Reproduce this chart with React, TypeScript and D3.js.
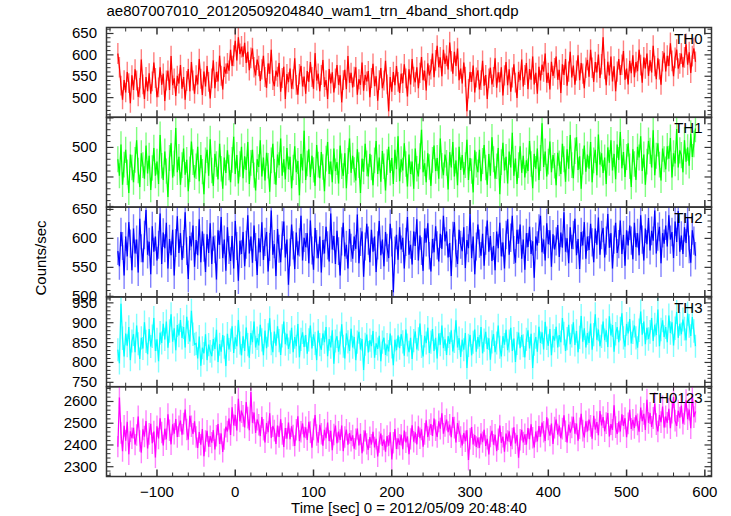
import React from "react";
import * as d3 from "d3";

const TITLE = "ae807007010_20120509204840_wam1_trn_4band_short.qdp";
const X_LABEL = "Time [sec] 0 = 2012/05/09 20:48:40";
const Y_LABEL = "Counts/sec";
const T_START = -150;
const T_STEP = 2;
const X_TICKS = [-100, 0, 100, 200, 300, 400, 500, 600];

const th0 = [
  603, 571, 528, 495, 541, 512, 560, 534, 487, 552,
  518, 566, 540, 502, 523, 589, 531, 497, 548, 515,
  557, 509, 538, 582, 546, 501, 524, 571, 530, 556,
  492, 540, 563, 518, 597, 529, 545, 504, 551, 533,
  576, 521, 548, 495, 539, 567, 515, 583, 540, 509,
  552, 531, 590, 544, 506, 561, 526, 574, 537, 498,
  545, 587, 522, 560, 538, 598, 551, 519, 572, 556,
  580, 563, 612, 574, 598, 633, 587, 641, 602, 619,
  596, 628, 581, 607, 564, 593, 615, 571, 552, 589,
  574, 539, 566, 598, 548, 523, 580, 556, 612, 541,
  527, 563, 549, 581, 514, 546, 572, 497, 555, 536,
  568, 521, 543, 592, 530, 507, 555, 574, 526, 549,
  509, 562, 537, 583, 548, 521, 604, 540, 556, 515,
  553, 588, 525, 541, 497, 567, 533, 559, 512, 545,
  576, 530, 552, 489, 541, 565, 520, 597, 535, 558,
  524, 549, 571, 507, 543, 530, 582, 516, 553, 538,
  562, 501, 546, 579, 527, 550, 493, 541, 569, 522,
  540, 586, 531, 468, 548, 514, 560, 529, 574, 537,
  511, 556, 534, 578, 545, 503, 566, 531, 590, 549,
  536, 571, 522, 558, 595, 541, 563, 517, 580, 552,
  566, 603, 548, 587, 621, 571, 594, 550, 612, 579,
  598, 566, 629, 585, 556, 607, 574, 615, 541, 568,
  533, 582, 549, 468, 521, 560, 537, 575, 512, 547,
  564, 519, 541, 586, 528, 553, 497, 545, 570, 531,
  548, 592, 523, 559, 536, 571, 505, 552, 583, 529,
  566, 514, 547, 578, 535, 499, 560, 541, 589, 526,
  553, 581, 520, 567, 542, 596, 531, 558, 509, 572,
  540, 577, 561, 603, 535, 558, 519, 584, 551, 569,
  596, 542, 565, 511, 578, 553, 590, 528, 561, 607,
  547, 575, 530, 563, 599, 541, 581, 556, 522, 570,
  588, 549, 612, 570, 537, 583, 559, 601, 546, 578,
  641, 567, 529, 584, 552, 596, 538, 573, 515, 561,
  590, 553, 577, 609, 542, 568, 531, 586, 557, 599,
  548, 583, 562, 612, 576, 535, 594, 568, 603, 551,
  587, 559, 621, 574, 543, 592, 566, 530, 585, 605,
  561, 598, 574, 627, 586, 550, 593, 612, 568, 580,
  603, 571, 594, 625, 577, 606, 558, 597, 615, 584,
];

const th1 = [
  480, 452, 505, 437, 471, 496, 458, 423, 488, 466,
  441, 479, 512, 461, 433, 490, 470, 447, 503, 456,
  486, 428, 465, 499, 452, 476, 438, 521, 469, 445,
  493, 460, 416, 482, 507, 449, 473, 533, 458, 484,
  437, 470, 498, 454, 479, 426, 463, 510, 475, 449,
  468, 501, 443, 487, 459, 421, 478, 496, 452, 514,
  461, 435, 489, 472, 446, 506, 464, 430, 483, 457,
  495, 466, 441, 479, 518, 455, 487, 439, 472, 501,
  448, 485, 462, 509, 438, 474, 496, 453, 427, 480,
  467, 512, 451, 483, 444, 491, 469, 425, 478, 506,
  459, 437, 488, 470, 515, 452, 480, 446, 499, 463,
  484, 431, 466, 502, 458, 477, 419, 489, 461, 528,
  445, 473, 497, 450, 486, 462, 435, 504, 471, 448,
  492, 467, 426, 481, 509, 455, 476, 441, 498, 460,
  475, 439, 503, 468, 452, 490, 431, 477, 515, 457,
  486, 462, 444, 497, 470, 423, 481, 459, 506, 473,
  451, 489, 466, 436, 478, 511, 455, 483, 442, 494,
  468, 427, 475, 501, 457, 482, 438, 496, 463, 519,
  443, 480, 461, 507, 472, 434, 488, 455, 476, 430,
  498, 464, 451, 485, 530, 458, 473, 441, 490, 467,
  435, 479, 503, 460, 482, 447, 515, 469, 453, 488,
  474, 429, 492, 466, 509, 451, 478, 436, 501, 462,
  487, 454, 470, 513, 445, 482, 460, 424, 495, 471,
  458, 496, 443, 477, 504, 466, 437, 489, 452, 517,
  480, 447, 468, 499, 421, 475, 508, 461, 484, 439,
  493, 466, 525, 452, 481, 438, 470, 502, 457, 486,
  449, 478, 460, 511, 472, 431, 489, 464, 498, 445,
  482, 541, 467, 493, 451, 476, 510, 458, 487, 469,
  436, 491, 473, 455, 506, 480, 442, 497, 464, 521,
  470, 448, 494, 517, 462, 485, 430, 476, 503, 459,
  488, 464, 509, 441, 478, 496, 453, 522, 471, 490,
  457, 483, 438, 500, 474, 512, 461, 489, 446, 505,
  479, 526, 465, 492, 450, 484, 507, 468, 433, 497,
  472, 445, 501, 483, 519, 460, 488, 437, 476, 511,
  494, 466, 529, 453, 486, 507, 471, 444, 498, 480,
  463, 502, 481, 516, 449, 490, 473, 531, 466, 495,
  487, 458, 512, 476, 500, 469, 523, 484, 506, 532,
];

const th2 = [
  578, 552, 611, 587, 536, 603, 569, 628, 591, 545,
  617, 574, 598, 541, 634, 583, 559, 606, 649, 572,
  594, 538, 621, 577, 603, 562, 589, 643, 556, 610,
  583, 627, 548, 599, 571, 615, 536, 592, 638, 575,
  609, 563, 590, 645, 578, 530, 604, 586, 622, 551,
  597, 571, 633, 559, 612, 584, 542, 607, 575, 626,
  556, 603, 581, 529, 614, 589, 637, 566, 598, 544,
  619, 580, 561, 604, 548, 630, 587, 527, 596, 573,
  611, 552, 589, 640, 574, 603, 558, 622, 585, 537,
  600, 576, 628, 563, 594, 611, 543, 585, 648, 572,
  590, 535, 616, 582, 559, 605, 629, 567, 598, 520,
  576, 624, 588, 547, 610, 571, 593, 639, 562, 601,
  585, 609, 557, 631, 579, 546, 618, 590, 566, 603,
  541, 597, 574, 620, 588, 560, 643, 581, 604, 556,
  613, 578, 536, 595, 627, 569, 589, 548, 616, 584,
  565, 603, 582, 641, 557, 594, 612, 534, 586, 625,
  596, 559, 615, 577, 603, 542, 588, 630, 571, 598,
  552, 611, 584, 566, 625, 593, 507, 579, 606, 563,
  619, 581, 601, 548, 594, 637, 572, 589, 555, 612,
  587, 633, 562, 605, 578, 544, 617, 593, 626, 570,
  543, 599, 576, 621, 588, 560, 608, 582, 639, 595,
  612, 567, 592, 535, 604, 628, 574, 556, 615, 589,
  578, 619, 549, 597, 583, 642, 566, 603, 538, 586,
  624, 591, 570, 608, 553, 596, 631, 577, 604, 561,
  587, 545, 612, 583, 627, 569, 593, 548, 606, 633,
  572, 601, 639, 580, 558, 615, 591, 624, 565, 598,
  546, 609, 585, 620, 573, 595, 532, 603, 588, 617,
  639, 576, 598, 562, 626, 590, 614, 551, 607, 581,
  595, 623, 568, 610, 584, 645, 577, 600, 557, 619,
  582, 606, 634, 571, 599, 547, 611, 588, 628, 565,
  603, 580, 625, 593, 559, 617, 589, 636, 572, 606,
  618, 567, 596, 642, 584, 609, 548, 598, 627, 575,
  590, 631, 573, 606, 553, 614, 588, 622, 596, 564,
  627, 585, 609, 571, 640, 598, 562, 617, 590, 635,
  579, 613, 596, 648, 574, 603, 620, 557, 609, 591,
  622, 586, 640, 598, 611, 566, 629, 594, 647, 577,
  605, 573, 619, 592, 636, 581, 558, 614, 596, 570,
];

const th3 = [
  832, 798, 948, 861, 815, 873, 842, 889, 806, 854,
  871, 826, 893, 847, 809, 862, 835, 901, 853, 821,
  884, 840, 866, 912, 829, 858, 803, 875, 849, 897,
  858, 903, 837, 879, 921, 852, 886, 831, 894, 868,
  907, 862, 889, 838, 915, 876, 853, 930, 871, 846,
  848, 810, 865, 792, 837, 823, 871, 806, 845, 828,
  816, 859, 834, 882, 801, 846, 827, 869, 838, 791,
  872, 833, 856, 891, 824, 863, 841, 907, 849, 818,
  866, 829, 888, 845, 812, 874, 851, 903, 838, 861,
  843, 895, 857, 818, 880, 836, 869, 911, 847, 826,
  878, 842, 891, 855, 819, 867, 903, 846, 872, 834,
  851, 887, 826, 864, 841, 897, 813, 858, 876, 839,
  869, 822, 857, 893, 835, 871, 848, 806, 880, 845,
  832, 873, 851, 889, 816, 859, 838, 881, 797, 854,
  866, 827, 849, 896, 841, 810, 873, 852, 829, 885,
  838, 864, 806, 851, 877, 833, 859, 781, 846, 870,
  825, 856, 841, 879, 812, 848, 834, 867, 803, 851,
  862, 819, 845, 828, 873, 839, 793, 857, 831, 868,
  836, 871, 852, 817, 883, 844, 826, 862, 809, 855,
  878, 833, 859, 898, 840, 815, 867, 849, 887, 824,
  851, 884, 829, 862, 810, 873, 845, 893, 836, 858,
  819, 866, 847, 881, 828, 853, 906, 838, 861, 814,
  857, 832, 874, 786, 843, 869, 818, 851, 883, 827,
  864, 840, 889, 823, 856, 877, 834, 861, 807, 852,
  871, 826, 849, 893, 838, 815, 866, 845, 882, 831,
  854, 887, 829, 860, 801, 848, 875, 836, 869, 842,
  813, 858, 881, 835, 872, 786, 846, 864, 827, 890,
  849, 876, 833, 902, 861, 842, 884, 818, 867, 855,
  890, 838, 869, 851, 912, 873, 829, 860, 895, 846,
  867, 901, 844, 879, 826, 863, 917, 852, 886, 838,
  874, 849, 898, 832, 870, 921, 857, 883, 841, 866,
  903, 856, 881, 839, 916, 868, 894, 827, 872, 889,
  851, 885, 924, 862, 840, 897, 873, 909, 848, 876,
  893, 862, 837, 881, 928, 870, 903, 846, 887, 859,
  877, 912, 854, 895, 869, 933, 841, 883, 906, 864,
  889, 851, 918, 874, 901, 843, 886, 927, 862, 897,
  871, 908, 885, 856, 923, 892, 867, 914, 879, 841,
];

const th0123 = [
  2392, 2618, 2455, 2371, 2488, 2420, 2506, 2357, 2463, 2431,
  2479, 2402, 2446, 2531, 2418, 2365, 2472, 2439, 2510, 2384,
  2451, 2497, 2408, 2462, 2343, 2486, 2430, 2523, 2457, 2398,
  2474, 2426, 2541, 2468, 2403, 2495, 2452, 2519, 2437, 2486,
  2512, 2447, 2498, 2563, 2471, 2425, 2534, 2486, 2451, 2509,
  2437, 2386, 2459, 2401, 2473, 2348, 2418, 2465, 2392, 2440,
  2411, 2468, 2379, 2442, 2496, 2405, 2453, 2368, 2427, 2484,
  2462, 2521, 2446, 2573, 2490, 2538, 2467, 2612, 2509, 2552,
  2534, 2481, 2597, 2526, 2468, 2643, 2502, 2549, 2455, 2517,
  2493, 2441, 2528, 2470, 2412, 2501, 2459, 2546, 2433, 2487,
  2466, 2405, 2489, 2437, 2518, 2451, 2391, 2478, 2429, 2503,
  2427, 2486, 2444, 2396, 2470, 2532, 2418, 2461, 2499, 2435,
  2481, 2423, 2506, 2459, 2387, 2472, 2538, 2446, 2411, 2493,
  2452, 2397, 2470, 2431, 2503, 2418, 2465, 2376, 2448, 2489,
  2408, 2461, 2423, 2489, 2372, 2437, 2470, 2401, 2455, 2419,
  2444, 2383, 2427, 2475, 2398, 2451, 2362, 2419, 2466, 2405,
  2378, 2436, 2402, 2461, 2389, 2428, 2347, 2413, 2452, 2396,
  2425, 2369, 2441, 2397, 2458, 2334, 2410, 2473, 2382, 2430,
  2401, 2447, 2381, 2466, 2412, 2439, 2358, 2428, 2490, 2415,
  2458, 2403, 2486, 2431, 2472, 2392, 2451, 2513, 2437, 2469,
  2496, 2442, 2521, 2468, 2437, 2509, 2475, 2546, 2452, 2488,
  2517, 2459, 2493, 2436, 2528, 2480, 2412, 2501, 2463, 2437,
  2398, 2455, 2417, 2468, 2331, 2429, 2482, 2403, 2446, 2391,
  2434, 2387, 2452, 2413, 2470, 2396, 2428, 2357, 2439, 2465,
  2401, 2447, 2372, 2426, 2489, 2410, 2438, 2369, 2452, 2418,
  2463, 2395, 2430, 2481, 2407, 2446, 2341, 2424, 2470, 2412,
  2449, 2402, 2478, 2427, 2495, 2433, 2389, 2462, 2416, 2487,
  2438, 2503, 2461, 2419, 2527, 2472, 2443, 2498, 2405, 2480,
  2517, 2448, 2489, 2431, 2475, 2536, 2463, 2412, 2494, 2457,
  2481, 2529, 2452, 2498, 2420, 2477, 2543, 2466, 2435, 2509,
  2462, 2517, 2488, 2429, 2534, 2471, 2505, 2445, 2556, 2490,
  2528, 2463, 2501, 2547, 2439, 2496, 2470, 2583, 2482, 2451,
  2507, 2462, 2541, 2488, 2523, 2436, 2499, 2562, 2474, 2515,
  2478, 2536, 2495, 2461, 2572, 2510, 2543, 2469, 2608, 2502,
  2547, 2483, 2524, 2591, 2496, 2462, 2538, 2505, 2577, 2480,
  2531, 2502, 2566, 2477, 2549, 2620, 2512, 2488, 2557, 2526,
  2581, 2498, 2543, 2605, 2519, 2563, 2477, 2636, 2528, 2554,
];

const PANEL_NAMES = ["TH0", "TH1", "TH2", "TH3", "TH0123"];
const PANEL_VALUES = [th0, th1, th2, th3, th0123];
const PANEL_LABELS = [
  [500, 550, 600, 650],
  [450, 500],
  [500, 550, 600, 650],
  [750, 800, 850, 900, 950],
  [2300, 2400, 2500, 2600],
];
const PANEL_DOMAINS: [number, number][] = [
  [454, 664],
  [399, 551],
  [499, 654],
  [739, 965],
  [2255, 2668],
];
const PANEL_MAJOR = [50, 50, 50, 50, 100];
const PANEL_MINOR = [10, 10, 10, 10, 20];
const PANEL_COLORS = ["#ff0000", "#00ff00", "#0000ff", "#00ffff", "#ff00ff"];

const W = 731;
const H = 516;
const LEFT = 106.5;
const RIGHT = 711.5;
const TOP = 27.5;
const BOTTOM = 476.5;
const FONT = "'Liberation Sans', Arial, Helvetica, sans-serif";
const AXIS = "#333";

export default function App() {
  const ph = (BOTTOM - TOP) / PANEL_NAMES.length;
  const x = d3.scaleLinear().domain([-164.5, 608.5]).range([LEFT, RIGHT]);
  const xMinor = d3.range(-160, 601, 20);

  return (
    <svg
      width={W}
      height={H}
      style={{ position: "absolute", left: 0, top: 0, background: "#fff" }}
      fontFamily={FONT}
    >
      <defs>
        {PANEL_NAMES.map((n, i) => (
          <clipPath id={`clip${i}`} key={n}>
            <rect x={LEFT} y={TOP + i * ph} width={RIGHT - LEFT} height={ph} />
          </clipPath>
        ))}
      </defs>
      <text x={LEFT} y={16} fontSize={15} fill="#000">
        {TITLE}
      </text>
      {PANEL_NAMES.map((name, i) => {
        const top = TOP + i * ph;
        const bot = top + ph;
        const y = d3.scaleLinear().domain(PANEL_DOMAINS[i]).range([bot, top]);
        const vals = PANEL_VALUES[i];
        const pts = vals.map((v, k) => ({ t: T_START + k * T_STEP, v }));
        const line = d3
          .line<{ t: number; v: number }>()
          .x((d) => x(d.t))
          .y((d) => y(d.v));
        const err = pts
          .map((d) => {
            const e = Math.sqrt(d.v);
            return `M${x(d.t)},${y(d.v - e)}V${y(d.v + e)}M${x(d.t - T_STEP / 2)},${y(d.v)}H${x(d.t + T_STEP / 2)}`;
          })
          .join("");
        const [d0, d1] = PANEL_DOMAINS[i];
        const minorY = d3
          .range(Math.ceil(d0 / PANEL_MINOR[i]) * PANEL_MINOR[i], d1, PANEL_MINOR[i])
          .filter((v) => v % PANEL_MAJOR[i] !== 0);
        const majorY = d3.range(Math.ceil(d0 / PANEL_MAJOR[i]) * PANEL_MAJOR[i], d1, PANEL_MAJOR[i]);
        return (
          <g key={name}>
            <g clipPath={`url(#clip${i})`}>
              <path d={err} stroke={PANEL_COLORS[i]} strokeOpacity={0.5} strokeWidth={1.4} fill="none" />
              <path d={line(pts) || ""} stroke={PANEL_COLORS[i]} strokeWidth={1.25} fill="none" />
            </g>
            {minorY.map((v) => (
              <g key={`m${v}`} stroke={AXIS} strokeWidth={1}>
                <line x1={LEFT} x2={LEFT + 4} y1={y(v)} y2={y(v)} />
                <line x1={RIGHT} x2={RIGHT - 4} y1={y(v)} y2={y(v)} />
              </g>
            ))}
            {majorY.map((v) => (
              <g key={`M${v}`} stroke={AXIS} strokeWidth={1.2}>
                <line x1={LEFT} x2={LEFT + 7} y1={y(v)} y2={y(v)} />
                <line x1={RIGHT} x2={RIGHT - 7} y1={y(v)} y2={y(v)} />
              </g>
            ))}
            {xMinor.map((t) => {
              const major = t % 100 === 0;
              const len = major ? 7 : 4;
              return (
                <g key={`x${t}`} stroke={AXIS} strokeWidth={major ? 1.5 : 1}>
                  <line x1={x(t)} x2={x(t)} y1={top} y2={top + len} />
                  <line x1={x(t)} x2={x(t)} y1={bot} y2={bot - len} />
                </g>
              );
            })}
            {PANEL_LABELS[i].map((v) => (
              <text key={`l${v}`} x={97} y={y(v) + 5} textAnchor="end" fontSize={15} fill="#000">
                {v}
              </text>
            ))}
            <text x={RIGHT - 9} y={top + 16} textAnchor="end" fontSize={15} fill="#000">
              {name}
            </text>
            <rect x={LEFT} y={top} width={RIGHT - LEFT} height={ph} fill="none" stroke={AXIS} strokeWidth={1.5} />
          </g>
        );
      })}
      {X_TICKS.map((t) => (
        <text key={t} x={x(t)} y={497} textAnchor="middle" fontSize={15} fill="#000">
          {t < 0 ? `\u2212${Math.abs(t)}` : t}
        </text>
      ))}
      <text x={(LEFT + RIGHT) / 2} y={513} textAnchor="middle" fontSize={15} fill="#000">
        {X_LABEL}
      </text>
      <text
        transform={`translate(46,${(TOP + BOTTOM) / 2 + 6}) rotate(-90)`}
        textAnchor="middle"
        fontSize={15}
        fill="#000"
      >
        {Y_LABEL}
      </text>
    </svg>
  );
}
